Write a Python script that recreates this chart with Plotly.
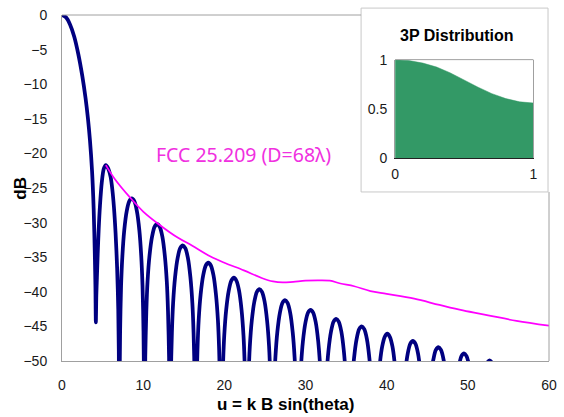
import plotly.graph_objects as go

# ---------------- data ----------------
# main lobe (u, dB)
main_u = [0, 0.5, 1.0, 1.5, 2.0, 2.5, 2.9, 3.2, 3.45, 3.7, 3.9, 4.05, 4.12, 4.17]
main_db = [0, -0.35, -1.4, -3.1, -5.6, -8.8, -12.0, -15.0, -18.2, -22.5, -28.0, -35.0, -39.5, -44.4]

# first sidelobe
lobe1_u = [4.23, 4.3, 4.4, 4.52, 4.68, 4.9, 5.15, 5.4, 5.7, 5.99, 6.2, 6.4, 6.6, 6.79, 6.93, 7.0, 7.05]
lobe1_db = [-40.5, -38.0, -34.5, -31.0, -27.5, -24.2, -22.2, -21.7, -22.2, -23.4, -25.2, -27.8, -31.5, -36.5, -42.5, -49.0, -80]

# remaining sidelobes: left null .. right null
lobe2_u = [7.1, 7.16, 7.28, 7.44, 7.67, 7.98, 8.29, 8.6, 8.91, 9.22, 9.53, 9.76, 9.92, 10.04, 10.1, 10.15]
lobe2_db = [-53.0, -45.7, -39.1, -34.8, -31.1, -28.3, -26.9, -26.5, -26.9, -28.3, -31.1, -34.8, -39.1, -45.7, -53.0, -80]
lobe3_u = [10.2, 10.26, 10.39, 10.54, 10.78, 11.1, 11.41, 11.73, 12.04, 12.36, 12.67, 12.91, 13.06, 13.19, 13.25, 13.3]
lobe3_db = [-56.7, -49.4, -42.8, -38.5, -34.8, -32.0, -30.6, -30.2, -30.6, -32.0, -34.8, -38.5, -42.8, -49.4, -56.7, -80]
lobe4_u = [13.35, 13.41, 13.54, 13.69, 13.93, 14.25, 14.56, 14.88, 15.19, 15.51, 15.82, 16.06, 16.21, 16.34, 16.4, 16.45]
lobe4_db = [-59.8, -52.5, -45.9, -41.6, -37.9, -35.1, -33.7, -33.3, -33.7, -35.1, -37.9, -41.6, -45.9, -52.5, -59.8, -80]
lobe5_u = [16.5, 16.56, 16.69, 16.84, 17.08, 17.4, 17.71, 18.03, 18.34, 18.66, 18.97, 19.21, 19.36, 19.49, 19.55, 19.6]
lobe5_db = [-62.3, -55.0, -48.4, -44.1, -40.4, -37.6, -36.2, -35.8, -36.2, -37.6, -40.4, -44.1, -48.4, -55.0, -62.3, -80]
lobe6_u = [19.65, 19.71, 19.84, 19.99, 20.23, 20.55, 20.86, 21.18, 21.49, 21.81, 22.12, 22.36, 22.51, 22.64, 22.7, 22.75]
lobe6_db = [-64.5, -57.2, -50.6, -46.3, -42.6, -39.8, -38.4, -37.95, -38.4, -39.8, -42.6, -46.3, -50.6, -57.2, -64.5, -80]
lobe7_u = [22.8, 22.86, 22.99, 23.14, 23.38, 23.7, 24.01, 24.33, 24.64, 24.96, 25.27, 25.51, 25.66, 25.79, 25.85, 25.9]
lobe7_db = [-66.1, -58.8, -52.2, -47.9, -44.2, -41.4, -40.0, -39.6, -40.0, -41.4, -44.2, -47.9, -52.2, -58.8, -66.1, -80]
lobe8_u = [25.95, 26.01, 26.14, 26.29, 26.53, 26.85, 27.16, 27.48, 27.79, 28.11, 28.42, 28.66, 28.81, 28.94, 29.0, 29.05]
lobe8_db = [-67.7, -60.4, -53.8, -49.5, -45.8, -43.0, -41.6, -41.2, -41.6, -43.0, -45.8, -49.5, -53.8, -60.4, -67.7, -80]
lobe9_u = [29.1, 29.16, 29.29, 29.44, 29.68, 30.0, 30.31, 30.63, 30.94, 31.26, 31.57, 31.81, 31.96, 32.09, 32.15, 32.2]
lobe9_db = [-69.1, -61.8, -55.2, -50.9, -47.2, -44.4, -43.0, -42.6, -43.0, -44.4, -47.2, -50.9, -55.2, -61.8, -69.1, -80]
lobe10_u = [32.25, 32.31, 32.44, 32.59, 32.83, 33.15, 33.46, 33.78, 34.09, 34.41, 34.72, 34.96, 35.11, 35.24, 35.3, 35.35]
lobe10_db = [-70.4, -63.1, -56.5, -52.2, -48.5, -45.7, -44.3, -43.9, -44.3, -45.7, -48.5, -52.2, -56.5, -63.1, -70.4, -80]
lobe11_u = [35.4, 35.46, 35.59, 35.74, 35.98, 36.3, 36.61, 36.93, 37.24, 37.56, 37.87, 38.11, 38.26, 38.39, 38.45, 38.5]
lobe11_db = [-71.5, -64.2, -57.6, -53.3, -49.6, -46.8, -45.4, -45.0, -45.4, -46.8, -49.6, -53.3, -57.6, -64.2, -71.5, -80]
lobe12_u = [38.55, 38.61, 38.74, 38.89, 39.13, 39.45, 39.76, 40.08, 40.39, 40.71, 41.02, 41.26, 41.41, 41.54, 41.6, 41.65]
lobe12_db = [-72.6, -65.3, -58.7, -54.4, -50.7, -47.9, -46.5, -46.05, -46.5, -47.9, -50.7, -54.4, -58.7, -65.3, -72.6, -80]
lobe13_u = [41.7, 41.76, 41.89, 42.04, 42.28, 42.6, 42.91, 43.23, 43.54, 43.86, 44.17, 44.41, 44.56, 44.69, 44.75, 44.8]
lobe13_db = [-73.6, -66.3, -59.7, -55.4, -51.7, -48.9, -47.5, -47.1, -47.5, -48.9, -51.7, -55.4, -59.7, -66.3, -73.6, -80]
lobe14_u = [44.85, 44.91, 45.04, 45.19, 45.43, 45.75, 46.06, 46.38, 46.69, 47.01, 47.32, 47.56, 47.71, 47.84, 47.9, 47.95]
lobe14_db = [-74.5, -67.2, -60.6, -56.3, -52.6, -49.8, -48.4, -48.0, -48.4, -49.8, -52.6, -56.3, -60.6, -67.2, -74.5, -80]
lobe15_u = [48.0, 48.06, 48.19, 48.34, 48.58, 48.9, 49.21, 49.53, 49.84, 50.16, 50.47, 50.71, 50.86, 50.99, 51.05, 51.1]
lobe15_db = [-75.4, -68.1, -61.5, -57.2, -53.5, -50.7, -49.3, -48.9, -49.3, -50.7, -53.5, -57.2, -61.5, -68.1, -75.4, -80]
lobe16_u = [51.15, 51.21, 51.34, 51.49, 51.73, 52.05, 52.36, 52.68, 52.99, 53.31, 53.62, 53.86, 54.01, 54.14, 54.2, 54.25]
lobe16_db = [-76.4, -69.1, -62.5, -58.2, -54.5, -51.7, -50.3, -49.9, -50.3, -51.7, -54.5, -58.2, -62.5, -69.1, -76.4, -80]

# FCC 25.209 envelope (D = 68 lambda)
fcc_u = [5.4, 6.5, 8.4, 10.0, 12.0, 14.3, 16.0, 18.3, 20.0, 22.4, 24.6, 26.0, 27.2, 28.5, 30.0,
         31.5, 33.0, 34.3, 36.0, 38.0, 40.0, 43.4, 46.5, 49.4, 52.5, 56.0, 60.0]
fcc_db = [-21.7, -23.7, -26.4, -28.4, -30.3, -32.2, -33.3, -34.9, -35.8, -36.9, -38.0, -38.5, -38.65, -38.55, -38.4,
          -38.35, -38.4, -38.8, -39.2, -39.9, -40.3, -41.0, -41.9, -42.7, -43.4, -44.2, -44.9]

# inset: 3P aperture distribution
dist_x = [0, 0.1, 0.2, 0.3, 0.4, 0.5, 0.6, 0.7, 0.8, 0.9, 1.0]
dist_y = [1.0, 0.99, 0.965, 0.925, 0.865, 0.79, 0.72, 0.655, 0.605, 0.572, 0.56]

x_ticks = [0, 10, 20, 30, 40, 50, 60]
y_ticks = [0, -5, -10, -15, -20, -25, -30, -35, -40, -45, -50]

# ---------------- assemble ----------------
lobes_u = [main_u, lobe1_u, lobe2_u, lobe3_u, lobe4_u, lobe5_u, lobe6_u, lobe7_u, lobe8_u,
           lobe9_u, lobe10_u, lobe11_u, lobe12_u, lobe13_u, lobe14_u, lobe15_u, lobe16_u]
lobes_db = [main_db, lobe1_db, lobe2_db, lobe3_db, lobe4_db, lobe5_db, lobe6_db, lobe7_db, lobe8_db,
            lobe9_db, lobe10_db, lobe11_db, lobe12_db, lobe13_db, lobe14_db, lobe15_db, lobe16_db]
pattern_u = [v for seg in lobes_u for v in seg]
pattern_db = [v for seg in lobes_db for v in seg]

GRAY = "#A0A0A0"
TICKFONT = dict(family="Liberation Sans, Arial, sans-serif", size=14, color="#1a1a1a")

fig = go.Figure()
fig.add_trace(go.Scatter(x=pattern_u, y=pattern_db, mode="lines",
                         line=dict(color="#000080", width=3.75, shape="spline", smoothing=0.8),
                         showlegend=False, hoverinfo="skip"))
fig.add_trace(go.Scatter(x=fcc_u, y=fcc_db, mode="lines",
                         line=dict(color="#FF00FF", width=1.75, shape="spline", smoothing=1),
                         showlegend=False, hoverinfo="skip"))
fig.add_trace(go.Scatter(x=dist_x, y=dist_y, mode="lines", fill="tozeroy",
                         fillcolor="#339966", line=dict(color="#339966", width=0.5),
                         xaxis="x2", yaxis="y2", showlegend=False, hoverinfo="skip"))

# inset frame geometry (paper coords)
box_x0, box_x1 = (366 - 62) / 495, (556 - 62) / 495
box_y0, box_y1 = (361 - 190) / 350, (361 - 4) / 350

fig.update_layout(
    width=564, height=417,
    margin=dict(l=62, r=7, t=11, b=56),
    paper_bgcolor="white", plot_bgcolor="rgba(0,0,0,0)",
    xaxis=dict(range=[0, 60], tickvals=x_ticks, showgrid=False, zeroline=False,
               showline=True, linecolor=GRAY, linewidth=1, ticks="", tickfont=TICKFONT,
               ticklabelstandoff=11),
    yaxis=dict(range=[-50, 0], tickvals=y_ticks, showgrid=False, zeroline=False,
               showline=True, linecolor=GRAY, linewidth=1, ticks="", tickfont=TICKFONT,
               ticklabelstandoff=11),
    xaxis2=dict(domain=[0.684, 0.968], range=[0, 1], tickvals=[0, 1], anchor="y2",
                showgrid=False, zeroline=False, showline=True, linecolor="#222", linewidth=1,
                ticks="", tickfont=TICKFONT, ticklabelstandoff=3),
    yaxis2=dict(domain=[0.586, 0.871], range=[0, 1], tickvals=[0, 0.5, 1], anchor="x2",
                showgrid=False, zeroline=False, showline=True, linecolor=GRAY, linewidth=1,
                mirror=True, ticks="", tickfont=TICKFONT, ticklabelstandoff=4),
    shapes=[
        # main plot top border (left of inset box) and right border
        dict(type="line", xref="paper", yref="paper", x0=0, x1=box_x0, y0=1, y1=1,
             line=dict(color=GRAY, width=1), layer="above"),
        dict(type="line", xref="paper", yref="paper", x0=1, x1=1, y0=0, y1=box_y0,
             line=dict(color=GRAY, width=1), layer="above"),
        # inset box
        dict(type="rect", xref="paper", yref="paper", x0=box_x0, x1=box_x1, y0=box_y0, y1=box_y1,
             fillcolor="white", line=dict(color="#C8C8C8", width=1), layer="below"),
        # inset plot top border
        dict(type="line", xref="paper", yref="paper", x0=0.684, x1=0.968, y0=0.871, y1=0.871,
             line=dict(color=GRAY, width=1), layer="above"),
    ],
    annotations=[
        dict(text="FCC 25.209 (D=68λ)", x=22.4, y=-20.1, xref="x", yref="y",
             showarrow=False, xanchor="center", yanchor="middle",
             font=dict(family="Noto Sans, sans-serif", size=19.5, color="#F030E0")),
        dict(text="<b>dB</b>", x=(19 - 62) / 495, y=0.5, xref="paper", yref="paper",
             textangle=-90, showarrow=False, xanchor="center", yanchor="middle",
             font=dict(family="Liberation Sans, Arial, sans-serif", size=17, color="#000")),
        dict(text="<b>u = k B sin(theta)</b>", x=(289 - 62) / 495, y=(361 - 405) / 350,
             xref="paper", yref="paper", showarrow=False, xanchor="center", yanchor="middle",
             font=dict(family="Liberation Sans, Arial, sans-serif", size=17, color="#000")),
        dict(text="<b>3P Distribution</b>", x=(463 - 62) / 495, y=(361 - 32) / 350,
             xref="paper", yref="paper", showarrow=False, xanchor="center", yanchor="middle",
             font=dict(family="Liberation Sans, Arial, sans-serif", size=16, color="#000")),
    ],
)

fig.write_html("out.html")
